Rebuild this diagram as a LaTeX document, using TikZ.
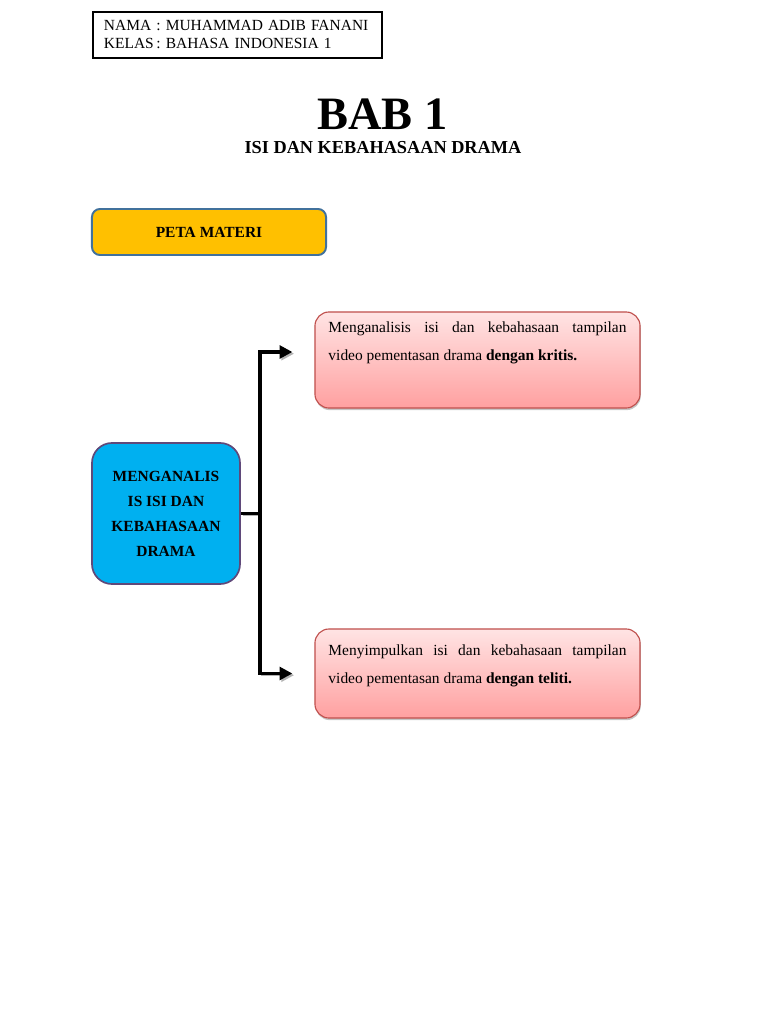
\documentclass[tikz,border=0pt]{standalone}
\usepackage{fontspec}
\setmainfont{Liberation Serif}
\usetikzlibrary{arrows.meta,positioning,shadows,calc}
\definecolor{petagold}{HTML}{FFC000}
\definecolor{petaedge}{HTML}{41719C}
\definecolor{topicblue}{HTML}{00B0F0}
\definecolor{topicedge}{HTML}{5F497A}
\definecolor{goaledge}{HTML}{C0504D}
\definecolor{goaltop}{HTML}{FFE4E4}
\definecolor{goalbot}{HTML}{FFA0A0}
\tikzset{
  namebox/.style={
    rectangle, draw=black, line width=1.4pt,
    minimum height=1.15cm, text width=6.675cm, inner xsep=0.275cm,
    align=left, font=\fontsize{11}{12.8}\selectfont
  },
  petabox/.style={
    rectangle, rounded corners=0.2cm, draw=petaedge, fill=petagold,
    line width=1.4pt, minimum width=5.85cm, minimum height=1.15cm,
    font=\bfseries\fontsize{11}{13}\selectfont
  },
  topicbox/.style={
    rectangle, rounded corners=0.5cm, draw=topicedge, fill=topicblue,
    line width=1.2pt, minimum width=3.7cm, minimum height=3.525cm,
    align=center, font=\bfseries\fontsize{11}{17.8}\selectfont
  },
  goalbox/.style={
    rectangle, rounded corners=0.35cm, draw=goaledge, line width=0.8pt,
    top color=goaltop, bottom color=goalbot,
    drop shadow={shadow xshift=0.5pt, shadow yshift=-1.5pt, opacity=0.45},
    inner xsep=0.3375cm, inner ysep=0.1cm,
    font=\fontsize{11}{20}\selectfont
  },
  linkarrow/.style={
    -{Triangle[length=9pt,width=9pt]}, line width=2.7pt, black,
    shorten >=0.55cm,
    preaction={draw=black!30, transform canvas={shift={(1.2pt,-1.2pt)}}}
  },
}
\begin{document}
\begin{tikzpicture}[x=0.025cm, y=-0.025cm]
  \fill[white] (0,0) rectangle (768,1024);
  \useasboundingbox (0,0) rectangle (768,1024);

  % identity
  \node[namebox] (ident) at (237.5,35)
    {NAMA : MUHAMMAD ADIB FANANI\\KELAS\,: BAHASA INDONESIA 1};

  % title
  \node (bab) at (382.5,114) {\bfseries\fontsize{33}{36}\selectfont BAB 1};
  \node (subtitle) at (383,148)
    {\bfseries\fontsize{13}{15}\selectfont ISI DAN KEBAHASAAN DRAMA};

  \node[petabox] (peta) at (209,232) {PETA MATERI};

  % map
  \node[topicbox] (topic) at (166,513.5)
    {MENGANALIS\\IS ISI DAN\\KEBAHASAAN\\DRAMA};

  \node[goalbox] (goalA) at (477.5,360) {\parbox[c][2.2cm][t]{7.45cm}{%
    \vspace*{0.15cm}Menganalisis isi dan kebahasaan tampilan\linebreak
    video pementasan drama \textbf{dengan kritis.}}};
  \node[goalbox] (goalB) at (477.5,673.5) {\parbox[c][2.025cm][t]{7.45cm}{%
    \vspace*{0.3cm}Menyimpulkan isi dan kebahasaan tampilan\linebreak
    video pementasan drama \textbf{dengan teliti.}}};

  \draw[linkarrow] (topic.east) -- ++(19,0) |- ([yshift=0.2cm]goalA.west);
  \draw[linkarrow] (topic.east) -- ++(19,0) |- (goalB.west);
\end{tikzpicture}
\end{document}
